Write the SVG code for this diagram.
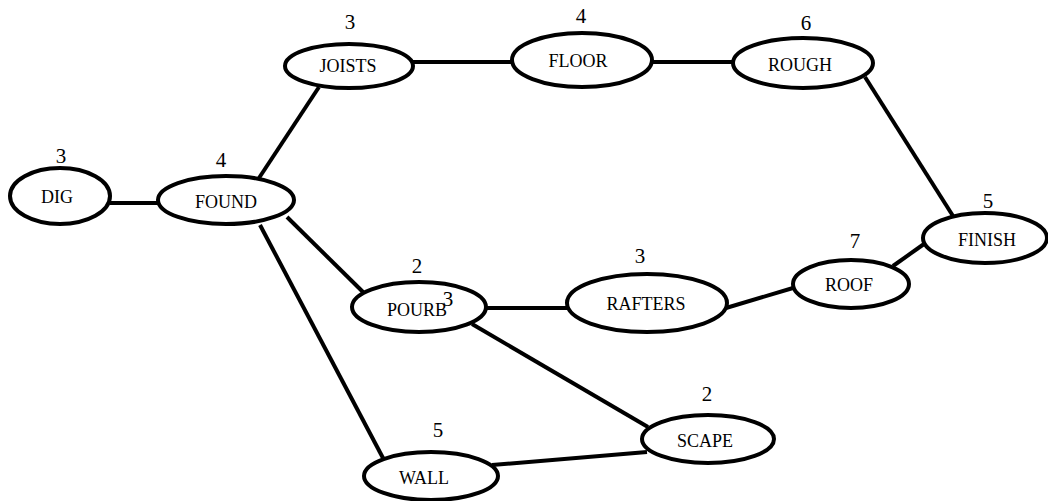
<svg xmlns="http://www.w3.org/2000/svg" width="1048" height="501" viewBox="0 0 1048 501">
  <style>
    .node ellipse { fill: #ffffff; stroke: #000000; stroke-width: 4; }
    .label { font-family: "Liberation Serif", "Times New Roman", serif; font-size: 18px; text-anchor: middle; fill: #000000; }
    .num { font-family: "Liberation Serif", "Times New Roman", serif; font-size: 21px; text-anchor: middle; fill: #000000; }
    #connectors line { stroke: #000000; stroke-width: 4; }
  </style>
  <rect width="1048" height="501" fill="#ffffff"/>

  <!-- edges of the task network -->
  <g id="connectors">
    <line x1="110" y1="203" x2="159" y2="203"/>
    <line x1="259" y1="178" x2="319" y2="87"/>
    <line x1="413" y1="62" x2="513" y2="62"/>
    <line x1="652" y1="62" x2="734" y2="62"/>
    <line x1="865" y1="77" x2="953" y2="216"/>
    <line x1="287" y1="217" x2="363" y2="292"/>
    <line x1="260" y1="225" x2="383" y2="458"/>
    <line x1="486" y1="308" x2="568" y2="308"/>
    <line x1="726" y1="308" x2="793" y2="288"/>
    <line x1="893" y1="266" x2="924" y2="244"/>
    <line x1="472" y1="324" x2="648" y2="427"/>
    <line x1="492" y1="465" x2="647" y2="452"/>
  </g>

  <g id="dig" class="node">
    <ellipse cx="60" cy="196" rx="50" ry="28"/>
    <text class="label" x="57" y="203">DIG</text>
    <text class="num" x="61" y="163">3</text>
  </g>

  <g id="found" class="node">
    <ellipse cx="226" cy="200" rx="68" ry="24"/>
    <text class="label" x="226" y="208">FOUND</text>
    <text class="num" x="221" y="167">4</text>
  </g>

  <g id="joists" class="node">
    <ellipse cx="349" cy="66" rx="64" ry="22"/>
    <text class="label" x="348" y="72">JOISTS</text>
    <text class="num" x="350" y="29">3</text>
  </g>

  <g id="floor" class="node">
    <ellipse cx="582" cy="60" rx="70" ry="27"/>
    <text class="label" x="578" y="67">FLOOR</text>
    <text class="num" x="581" y="23">4</text>
  </g>

  <g id="rough" class="node">
    <ellipse cx="803" cy="63" rx="70" ry="25"/>
    <text class="label" x="800" y="71">ROUGH</text>
    <text class="num" x="806" y="30">6</text>
  </g>

  <g id="pourb" class="node">
    <ellipse cx="419" cy="307" rx="67" ry="25"/>
    <text class="label" x="417" y="316">POURB</text>
    <text class="num" x="417" y="273">2</text>
    <text class="num" x="448" y="306">3</text>
  </g>

  <g id="rafters" class="node">
    <ellipse cx="647" cy="303" rx="80" ry="29"/>
    <text class="label" x="646" y="310">RAFTERS</text>
    <text class="num" x="640" y="263">3</text>
  </g>

  <g id="roof" class="node">
    <ellipse cx="851" cy="284" rx="58" ry="24"/>
    <text class="label" x="849" y="291">ROOF</text>
    <text class="num" x="855" y="248">7</text>
  </g>

  <g id="finish" class="node">
    <ellipse cx="985" cy="238" rx="62" ry="25"/>
    <text class="label" x="987" y="246">FINISH</text>
    <text class="num" x="988" y="208">5</text>
  </g>

  <g id="scape" class="node">
    <ellipse cx="708" cy="439" rx="66" ry="24"/>
    <text class="label" x="705" y="447">SCAPE</text>
    <text class="num" x="707" y="401">2</text>
  </g>

  <g id="wall" class="node">
    <ellipse cx="431" cy="476" rx="67" ry="24"/>
    <text class="label" x="424" y="484">WALL</text>
    <text class="num" x="438" y="437">5</text>
  </g>
</svg>
